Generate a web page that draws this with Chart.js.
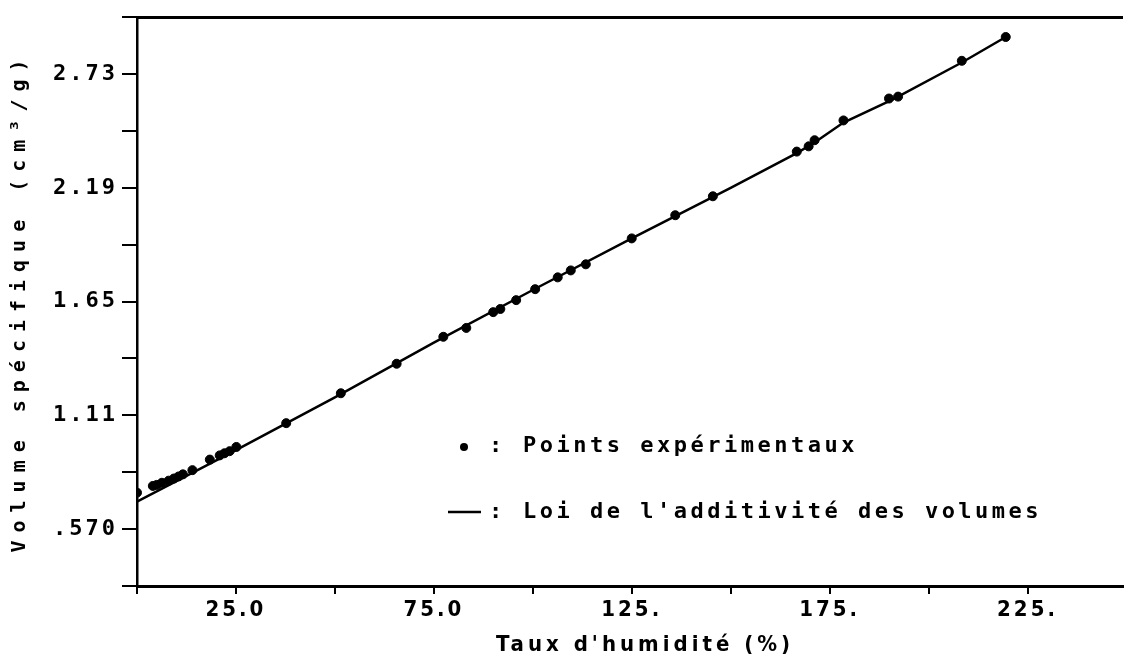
<!DOCTYPE html>
<html lang="fr">
<head>
<meta charset="utf-8">
<title>Volume spécifique</title>
<script src="https://cdn.jsdelivr.net/npm/chart.js@4.4.1/dist/chart.umd.min.js"></script>
<style>
    html, body { margin: 0; padding: 0; background: #fff; }
    #volumeChart { display: block; }
</style>
</head>
<body>
<canvas id="volumeChart" width="1128" height="660"></canvas>
<script>
// experimental points (humidity %, specific volume cm3/g)
const pointsX = [0, 4.0, 5.0, 6.3, 8.0, 9.3, 10.5, 11.6, 14.0, 18.4, 20.9, 22.1, 23.4, 25.1, 37.7, 51.5, 65.6, 77.4, 83.2, 90.0, 91.8, 95.8, 100.6, 106.3, 109.6, 113.4, 125.0, 136.0, 145.5, 166.7, 169.7, 171.2, 178.5, 190.0, 192.3, 208.4, 219.5]
const pointsY = [0.743, 0.775, 0.78, 0.79, 0.80, 0.81, 0.82, 0.83, 0.85, 0.90, 0.92, 0.93, 0.94, 0.96, 1.073, 1.215, 1.355, 1.483, 1.525, 1.60, 1.615, 1.657, 1.709, 1.765, 1.798, 1.827, 1.95, 2.06, 2.15, 2.362, 2.387, 2.416, 2.51, 2.614, 2.623, 2.793, 2.906]

// additivity law curve
const lineX = [0, 25, 50, 75, 100, 125, 150, 166.7, 171.2, 178.5, 191, 208.4, 219.5]
const lineY = [0.70, 0.945, 1.195, 1.455, 1.705, 1.95, 2.19, 2.355, 2.405, 2.50, 2.61, 2.785, 2.906]

// axis ticks
const xTickValues = [0, 25, 50, 75, 100, 125, 150, 175, 200, 225]
const xTickLabels = ['', '25.0', '', '75.0', '', '125.', '', '175.', '', '225.']
const yTickValues = [0.30, 0.57, 0.84, 1.11, 1.38, 1.65, 1.92, 2.19, 2.46, 2.73, 3.00]
const yTickLabels = ['', '.570', '', '1.11', '', '1.65', '', '2.19', '', '2.73', '']

const legendLabels = ['Points expérimentaux', "Loi de l'additivité des volumes"]
const xTitle = "Taux d'humidité (%)"
const yTitle = 'Volume spécifique (cm³/g)'

const monoFont = "'DejaVu Sans Mono', 'Liberation Mono', monospace"
const narrowFont = "'DejaVu Sans Condensed', 'Liberation Sans Narrow', 'DejaVu Sans', sans-serif"

const spacingPlugin = {
    id: 'spacing',
    beforeLayout(chart) { chart.ctx.letterSpacing = '3px' },
    beforeDraw(chart) { chart.ctx.letterSpacing = '3px' }
}

const textPlugin = {
    id: 'texts',
    afterDraw(chart) {
        const ctx = chart.ctx
        ctx.save()
        ctx.fillStyle = '#000'
        ctx.strokeStyle = '#000'

        // axis titles
        ctx.font = `bold 22px ${narrowFont}`
        ctx.letterSpacing = '4px'
        ctx.textAlign = 'center'
        ctx.textBaseline = 'middle'
        ctx.fillText(xTitle, 645, 645)

        ctx.save()
        ctx.translate(20, 302)
        ctx.rotate(-Math.PI / 2)
        ctx.font = `bold 20px ${monoFont}`
        ctx.letterSpacing = '8px'
        ctx.fillText(yTitle, 0, 0)
        ctx.restore()

        // legend
        ctx.font = `bold 22px ${monoFont}`
        ctx.letterSpacing = '3.5px'
        ctx.textAlign = 'left'
        const row1 = 446
        const row2 = 512
        ctx.beginPath()
        ctx.arc(464, row1 + 1, 4, 0, Math.PI * 2)
        ctx.fill()
        ctx.fillText(':', 489, row1)
        ctx.fillText(legendLabels[0], 523, row1)

        ctx.lineWidth = 2.5
        ctx.beginPath()
        ctx.moveTo(448, row2)
        ctx.lineTo(481, row2)
        ctx.stroke()
        ctx.fillText(':', 489, row2)
        ctx.fillText(legendLabels[1], 523, row2)
        ctx.restore()
    }
}

document.addEventListener('DOMContentLoaded', function () {
    const volumeChartContext = document.getElementById('volumeChart').getContext('2d')

    const experimentalPoints = pointsX.map((x, i) => ({x, y: pointsY[i]}))
    const additivityLine = lineX.map((x, i) => ({x, y: lineY[i]}))

    new Chart(volumeChartContext, {
        type: 'scatter',
        data: {
            datasets: [{
                label: legendLabels[0],
                data: experimentalPoints,
                backgroundColor: '#000',
                borderColor: '#000',
                pointRadius: 4.5,
                pointStyle: 'circle',
                showLine: false
            }, {
                label: legendLabels[1],
                data: additivityLine,
                borderColor: '#000',
                borderWidth: 2.5,
                pointRadius: 0,
                showLine: true,
                tension: 0
            }]
        },
        options: {
            responsive: false,
            animation: false,
            devicePixelRatio: 1,
            layout: {padding: {left: 0, top: 0, bottom: 0, right: -6}},
            plugins: {
                legend: {display: false},
                tooltip: {enabled: false}
            },
            scales: {
                x: {
                    type: 'linear',
                    position: 'bottom',
                    min: 0,
                    max: 249,
                    afterBuildTicks: scale => { scale.ticks = xTickValues.map(value => ({value})) },
                    afterFit: scale => { scale.height = 74 },
                    grid: {drawOnChartArea: false, tickLength: 8, color: '#000', lineWidth: 2},
                    border: {color: '#000', width: 3},
                    ticks: {
                        autoSkip: false,
                        maxRotation: 0,
                        padding: 3,
                        color: '#000',
                        font: {family: narrowFont, size: 22, weight: 'bold'},
                        callback: function (value) {
                            const i = xTickValues.indexOf(value)
                            return i >= 0 ? xTickLabels[i] : ''
                        }
                    }
                },
                xTop: {
                    type: 'linear',
                    position: 'top',
                    min: 0,
                    max: 249,
                    afterBuildTicks: scale => { scale.ticks = [] },
                    afterFit: scale => { scale.height = 13 },
                    grid: {display: false},
                    border: {display: true, color: '#000', width: 3},
                    ticks: {display: false}
                },
                y: {
                    type: 'linear',
                    min: 0.30,
                    max: 3.00,
                    afterBuildTicks: scale => { scale.ticks = yTickValues.map(value => ({value})) },
                    afterFit: scale => { scale.width = 137 },
                    grid: {drawOnChartArea: false, tickLength: 15, color: '#000', lineWidth: 2},
                    border: {color: '#000', width: 2.5},
                    ticks: {
                        autoSkip: false,
                        padding: 4,
                        color: '#000',
                        font: {family: monoFont, size: 22, weight: 'bold'},
                        callback: function (value) {
                            const i = yTickValues.findIndex(v => Math.abs(v - value) < 1e-6)
                            return i >= 0 ? yTickLabels[i] : ''
                        }
                    }
                }
            }
        },
        plugins: [spacingPlugin, textPlugin]
    })
})
</script>
</body>
</html>
